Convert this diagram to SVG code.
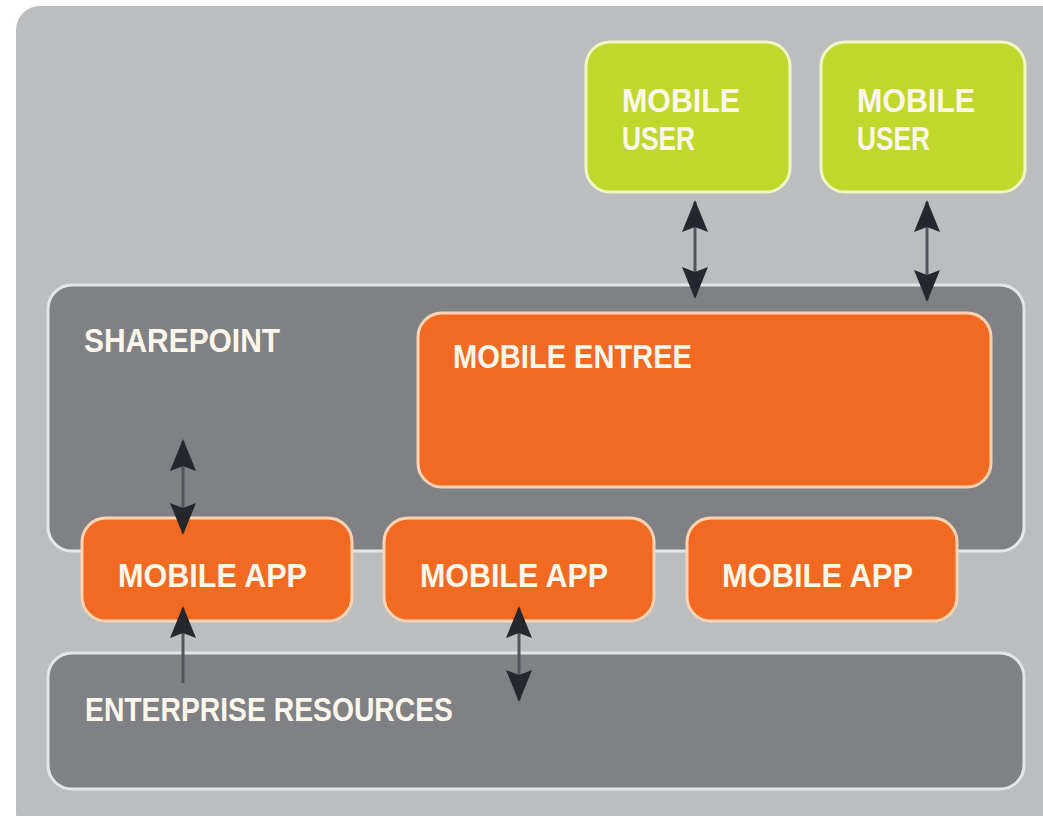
<svg xmlns="http://www.w3.org/2000/svg" width="1043" height="816" viewBox="0 0 1043 816">
  <defs>
    <marker id="head" viewBox="0 0 32 26" refX="30" refY="13" markerWidth="32" markerHeight="26" markerUnits="userSpaceOnUse" orient="auto-start-reverse">
      <path d="M0,0 L32,13 L0,26 L5,13 Z" fill="#24272e"/>
    </marker>
    <style>
      .lbl { font-family: "Liberation Sans", Arial, sans-serif; font-weight: bold; font-size: 33px; fill: #fcf7ea; }
      .dark { fill: #808185; stroke: #e4e6e8; stroke-width: 3; }
      .orange { fill: #f26a21; stroke: #fcd3b3; stroke-width: 3; }
      .green { fill: #c0d82c; stroke: #f0f6c4; stroke-width: 3; }
      .arrow { stroke: #50555e; stroke-width: 3; fill: none; }
    </style>
  </defs>
  <rect x="0" y="0" width="1043" height="816" fill="#ffffff"/>
  <rect id="background" x="16" y="6" width="1050" height="830" rx="24" fill="#bcbdbf"/>

  <g id="sharepoint">
    <rect class="dark" x="48" y="285" width="976" height="266" rx="24"/>
    <text class="lbl" x="84" y="352" textLength="196" lengthAdjust="spacingAndGlyphs">SHAREPOINT</text>
  </g>
  <g id="enterprise-resources">
    <rect class="dark" x="48" y="653" width="976" height="136" rx="24"/>
    <text class="lbl" x="85" y="721" textLength="368" lengthAdjust="spacingAndGlyphs">ENTERPRISE RESOURCES</text>
  </g>
  <g id="mobile-entree">
    <rect class="orange" x="418" y="313" width="573" height="174" rx="24"/>
    <text class="lbl" x="453" y="368" textLength="239" lengthAdjust="spacingAndGlyphs">MOBILE ENTREE</text>
  </g>
  <g id="mobile-app-1">
    <rect class="orange" x="82" y="518" width="270" height="103" rx="24"/>
    <text class="lbl" x="118" y="587" textLength="189" lengthAdjust="spacingAndGlyphs">MOBILE APP</text>
  </g>
  <g id="mobile-app-2">
    <rect class="orange" x="384" y="518" width="270" height="103" rx="24"/>
    <text class="lbl" x="420" y="587" textLength="188" lengthAdjust="spacingAndGlyphs">MOBILE APP</text>
  </g>
  <g id="mobile-app-3">
    <rect class="orange" x="687" y="518" width="270" height="103" rx="24"/>
    <text class="lbl" x="722" y="587" textLength="191" lengthAdjust="spacingAndGlyphs">MOBILE APP</text>
  </g>
  <g id="mobile-user-1">
    <rect class="green" x="586" y="42" width="204" height="150" rx="24"/>
    <text class="lbl" x="622" y="112" textLength="118" lengthAdjust="spacingAndGlyphs">MOBILE</text>
    <text class="lbl" x="622" y="150" textLength="73" lengthAdjust="spacingAndGlyphs">USER</text>
  </g>
  <g id="mobile-user-2">
    <rect class="green" x="821" y="42" width="204" height="150" rx="24"/>
    <text class="lbl" x="857" y="112" textLength="118" lengthAdjust="spacingAndGlyphs">MOBILE</text>
    <text class="lbl" x="857" y="150" textLength="73" lengthAdjust="spacingAndGlyphs">USER</text>
  </g>

  <g id="connectors">
    <line class="arrow" x1="695" y1="202" x2="695" y2="297" marker-start="url(#head)" marker-end="url(#head)"/>
    <line class="arrow" x1="927" y1="202" x2="927" y2="300" marker-start="url(#head)" marker-end="url(#head)"/>
    <line class="arrow" x1="183" y1="441" x2="183" y2="533" marker-start="url(#head)" marker-end="url(#head)"/>
    <line class="arrow" x1="183" y1="683" x2="183" y2="608" marker-end="url(#head)"/>
    <line class="arrow" x1="519" y1="608" x2="519" y2="700" marker-start="url(#head)" marker-end="url(#head)"/>
  </g>
</svg>
